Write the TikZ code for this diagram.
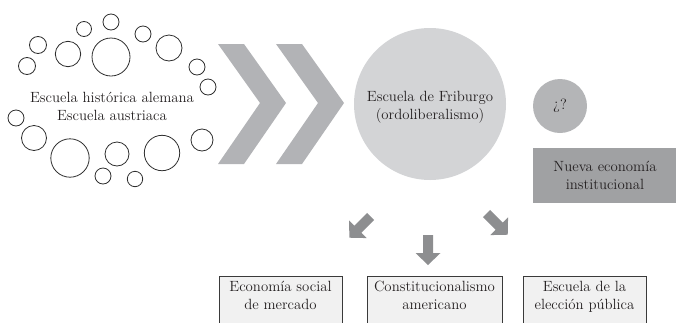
\documentclass[tikz,border=0pt]{standalone}
\definecolor{chevc}{HTML}{B2B3B6}
\definecolor{bigc}{HTML}{D3D4D6}
\definecolor{smallc}{HTML}{B4B5B7}
\definecolor{nuevac}{HTML}{A0A1A3}
\definecolor{arrowc}{HTML}{8D8E90}
\definecolor{boxfill}{HTML}{F1F1F1}
\definecolor{boxline}{HTML}{3A3A3A}
\definecolor{ringc}{HTML}{2E2E2E}
\definecolor{txt}{HTML}{231F20}
\begin{document}
\begin{tikzpicture}[x=1pt,y=-1pt,
  ring/.style={draw=ringc, line width=0.8pt},
  lbl/.style={font=\fontsize{14.8}{17.5}\selectfont, align=center, text=txt, inner sep=0pt},
  chevron/.style={fill=chevc},
  bottombox/.style={fill=boxfill, draw=boxline, line width=0.8pt},
  blockarrow/.pic={\fill[arrowc] (0,-5) -- (18,-5) -- (18,-12.5) -- (30,0) -- (18,12.5) -- (18,5) -- (0,5) -- cycle;}
]
\useasboundingbox (0,0) rectangle (676,322);
\clip (0,0) rectangle (676,322);

% ring of small circles
\foreach \cx/\cy/\r in {111/22/8, 84/29/7.5, 143/34/8, 38/45/8.5, 68/54/12.7, 111/57/19, 169/48/13,
  27/66/8.5, 197/67/8, 208/87/8, 16/118/8, 34/138/12.5, 70/158/19.2, 117/154/12, 103/176/8,
  135/179/7.7, 162/153/17.7, 202/140/11}
  \draw[ring] (\cx,\cy) circle[radius=\r pt];
\node[lbl, anchor=base] (hist) at (112,120) {Escuela histórica alemana\\Escuela austriaca};

% chevrons
\fill[chevron] (218,44) -- (244,44) -- (286,103) -- (244,164) -- (218,164) -- (260,103) -- cycle;
\fill[chevron] (276,44) -- (302,44) -- (344,103) -- (302,164) -- (276,164) -- (318,103) -- cycle;

% Friburgo circle
\node[circle, fill=bigc, minimum size=152pt, inner sep=0pt] (frei) at (430,104) {};
\node[lbl, anchor=base] (freitxt) at (430,119) {Escuela de Friburgo\\(ordoliberalismo)};

% small question circle
\node[circle, fill=smallc, minimum size=54pt, inner sep=0pt, lbl] (q) at (560,106) {¿?};

% Nueva economía institucional
\node[fill=nuevac, minimum width=143pt, minimum height=55pt, inner sep=0pt] (nueva) at (604.5,175.5) {};
\node[lbl, anchor=base] (nuevatxt) at (605,189) {Nueva economía\\institucional};

% block arrows
\pic[rotate=-135] at (370.6,216.5) {blockarrow};
\pic[rotate=-90] at (428,235) {blockarrow};
\pic[rotate=-45] at (486.5,213.5) {blockarrow};

% bottom boxes (cut at the bottom edge)
\draw[bottombox] (219,276) rectangle (342,340);
\draw[bottombox] (367,276) rectangle (502,340);
\draw[bottombox] (523,276) rectangle (646,340);
\node[lbl, anchor=base] (esm) at (280.5,309) {Economía social\\de mercado};
\node[lbl, anchor=base] (ca) at (434.5,309) {Constitucionalismo\\americano};
\node[lbl, anchor=base] (ep) at (584.5,309) {Escuela de la\\elección pública};
\end{tikzpicture}
\end{document}
